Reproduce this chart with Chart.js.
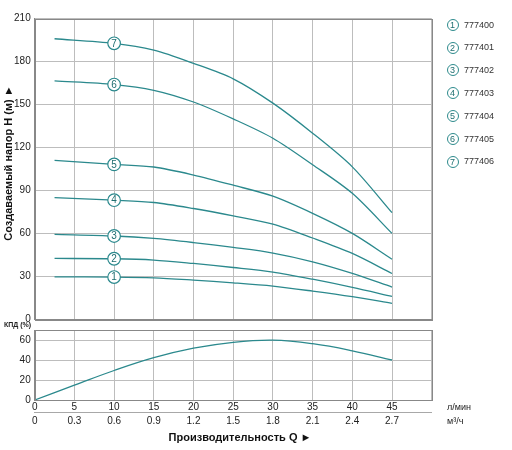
<!DOCTYPE html>
<html><head><meta charset="utf-8">
<script src="https://cdn.jsdelivr.net/npm/chart.js@4.4.0/dist/chart.umd.min.js"></script>
<style>
html,body{margin:0;padding:0;background:#fff;}
#wrap{position:relative;width:512px;height:450px;overflow:hidden;font-family:"Liberation Sans",Arial,sans-serif;color:#222;}
.abs{position:absolute;}
.lg-c{position:absolute;width:10px;height:10px;border:1.2px solid #2d8a8c;border-radius:50%;background:#fff;color:#1f6e70;font-size:9px;line-height:10px;text-align:center;}
.lg-t{position:absolute;font-size:9px;color:#333;white-space:nowrap;}
</style></head><body>
<div id="wrap">
  <div class="abs" style="left:0;top:0;width:512px;height:330px"><canvas id="c1"></canvas></div>
  <div class="abs" style="left:0;top:320px;width:512px;height:130px"><canvas id="c2"></canvas></div>
  <div class="abs" style="left:8px;top:163px;transform:translate(-50%,-50%) rotate(-90deg);white-space:nowrap;font-weight:bold;font-size:11px;color:#111;">Создаваемый напор H (м) ►</div>
  <div class="abs" style="left:4px;top:321px;white-space:nowrap;font-weight:bold;font-size:7px;color:#222;">КПД (%)</div>
  <div class="abs" style="left:447px;top:402px;white-space:nowrap;font-size:9px;color:#222;">л/мин</div>
  <div class="abs" style="left:447px;top:416px;white-space:nowrap;font-size:9px;color:#222;">м³/ч</div>
  <div class="abs" style="left:240px;top:437px;transform:translate(-50%,-50%);white-space:nowrap;font-weight:bold;font-size:11px;color:#111;">Производительность Q ►</div>
  <div id="legend"></div>
</div>
<script>
const flowLpm = [2.5, 10, 15, 20, 25, 30, 35, 40, 45];
const head1 = [29.6, 29.5, 29.0, 27.4, 25.5, 23.2, 19.7, 15.8, 11.2];
const head2 = [42.5, 42.3, 41.4, 39.0, 36.2, 33.0, 28.0, 22.3, 16.0];
const head3 = [59.3, 58.2, 56.5, 53.6, 50.2, 46.3, 40.2, 32.1, 22.5];
const head4 = [85.0, 83.2, 81.6, 77.4, 72.3, 66.5, 56.8, 46.0, 32.0];
const head5 = [111.0, 108.2, 106.4, 100.8, 93.7, 86.0, 74.0, 60.0, 42.0];
const head6 = [166.5, 164.0, 160.0, 151.8, 140.0, 126.5, 108.0, 88.0, 60.0];
const head7 = [196.0, 192.8, 188.0, 178.8, 168.0, 151.0, 130.0, 106.5, 74.5];
const effFlow = [0, 5, 10, 15, 20, 25, 30, 35, 40, 45];
const efficiency = [0, 14.8, 29.5, 42.3, 51.8, 57.7, 59.8, 56.3, 49.2, 40.0];
const curveNumbers = ['1', '2', '3', '4', '5', '6', '7'];
const models = ['777400', '777401', '777402', '777403', '777404', '777405', '777406'];
const flowTickLabels = ['0', '5', '10', '15', '20', '25', '30', '35', '40', '45', ''];
const m3hTickLabels = ['0', '0.3', '0.6', '0.9', '1.2', '1.5', '1.8', '2.1', '2.4', '2.7', ''];

const TEAL = '#2b898d';
const GRID = '#bdbdbd';
const FRAME = '#888888';
Chart.defaults.font.family = '"Liberation Sans", Arial, sans-serif';
Chart.defaults.color = '#222';

const heads = [head1, head2, head3, head4, head5, head6, head7];

// legend
const lg = document.getElementById('legend');
models.forEach((m, i) => {
  const cy = 25 + 22.8 * i;
  const c = document.createElement('div');
  c.className = 'lg-c';
  c.style.left = (452.7 - 6.2) + 'px';
  c.style.top = (cy - 6.2) + 'px';
  c.textContent = curveNumbers[i];
  lg.appendChild(c);
  const t = document.createElement('div');
  t.className = 'lg-t';
  t.style.left = '464px';
  t.style.top = (cy - 5.5) + 'px';
  t.textContent = m;
  lg.appendChild(t);
});

const framePlugin = {
  id: 'frame',
  afterDraw(chart) {
    const a = chart.chartArea, ctx = chart.ctx;
    ctx.save();
    ctx.strokeStyle = FRAME;
    ctx.lineWidth = 1;
    ctx.strokeRect(Math.round(a.left) + 0.5, Math.round(a.top) + 0.5, Math.round(a.right - a.left), Math.round(a.bottom - a.top));
    ctx.restore();
  }
};

const markerLabels = {
  id: 'markerLabels',
  afterDatasetsDraw(chart) {
    const ctx = chart.ctx;
    chart.data.datasets.forEach((ds, i) => {
      const pt = chart.getDatasetMeta(i).data[1];
      if (!pt) return;
      ctx.save();
      ctx.font = '10px "Liberation Sans", Arial, sans-serif';
      ctx.fillStyle = '#1f6e70';
      ctx.textAlign = 'center';
      ctx.textBaseline = 'middle';
      ctx.fillText(curveNumbers[i], pt.x, pt.y + 0.5);
      ctx.restore();
    });
  }
};

new Chart(document.getElementById('c1'), {
  type: 'line',
  data: {
    datasets: heads.map((h, i) => ({
      label: curveNumbers[i],
      data: flowLpm.map((q, j) => ({ x: q, y: h[j] })),
      borderColor: TEAL,
      borderWidth: 1.3,
      tension: 0.3,
      pointRadius: ctx => ctx.dataIndex === 1 ? 6.3 : 0,
      pointBackgroundColor: '#fff',
      pointBorderColor: TEAL,
      pointBorderWidth: 1.2,
      fill: false
    }))
  },
  options: {
    responsive: true,
    maintainAspectRatio: false,
    animation: false,
    events: [],
    layout: { padding: { top: 18.7, right: 80.3, left: 0, bottom: 0 } },
    plugins: { legend: { display: false }, tooltip: { enabled: false } },
    scales: {
      x: {
        type: 'linear', min: 0, max: 50,
        ticks: { stepSize: 5, display: false },
        grid: { color: GRID, drawTicks: false },
        border: { color: FRAME },
        afterFit(s) { s.height = 10.7; }
      },
      y: {
        min: 0, max: 210,
        ticks: { stepSize: 30, padding: 4, font: { size: 10 }, color: '#222' },
        grid: { color: GRID, drawTicks: false },
        border: { color: FRAME },
        afterFit(s) { s.width = 34.7; }
      }
    }
  },
  plugins: [markerLabels, framePlugin]
});

new Chart(document.getElementById('c2'), {
  type: 'line',
  data: {
    datasets: [{
      label: 'КПД',
      data: effFlow.map((q, j) => ({ x: q, y: efficiency[j] })),
      borderColor: TEAL,
      borderWidth: 1.3,
      tension: 0.4,
      pointRadius: 0,
      fill: false
    }]
  },
  options: {
    responsive: true,
    maintainAspectRatio: false,
    animation: false,
    events: [],
    layout: { padding: { top: 9, right: 80.3, left: 0, bottom: 17.7 } },
    plugins: { legend: { display: false }, tooltip: { enabled: false } },
    scales: {
      x: {
        type: 'linear', min: 0, max: 50, weight: 0,
        ticks: { stepSize: 5, padding: 1, font: { size: 10 }, color: '#222', maxRotation: 0, autoSkip: false,
          callback: (v, i) => flowTickLabels[i] },
        grid: { color: GRID, drawTicks: false },
        border: { color: FRAME },
        afterFit(s) { s.height = 12.3; }
      },
      x2: {
        type: 'linear', position: 'bottom', min: 0, max: 50, weight: 1,
        ticks: { stepSize: 5, padding: 3.4, font: { size: 10 }, color: '#222', maxRotation: 0, autoSkip: false,
          callback: (v, i) => m3hTickLabels[i] },
        grid: { color: 'rgba(0,0,0,0)', drawTicks: false },
        border: { color: '#a8a8a8' },
        afterFit(s) { s.height = 20; }
      },
      y: {
        min: 0, max: 70,
        ticks: { stepSize: 10, padding: 4, font: { size: 10 }, color: '#222',
          callback: v => (v % 20 === 0 && v < 70) ? String(v) : '' },
        grid: { color: GRID, drawTicks: false },
        border: { color: FRAME },
        afterFit(s) { s.width = 34.7; }
      }
    }
  },
  plugins: [framePlugin]
});
</script>
</body></html>
